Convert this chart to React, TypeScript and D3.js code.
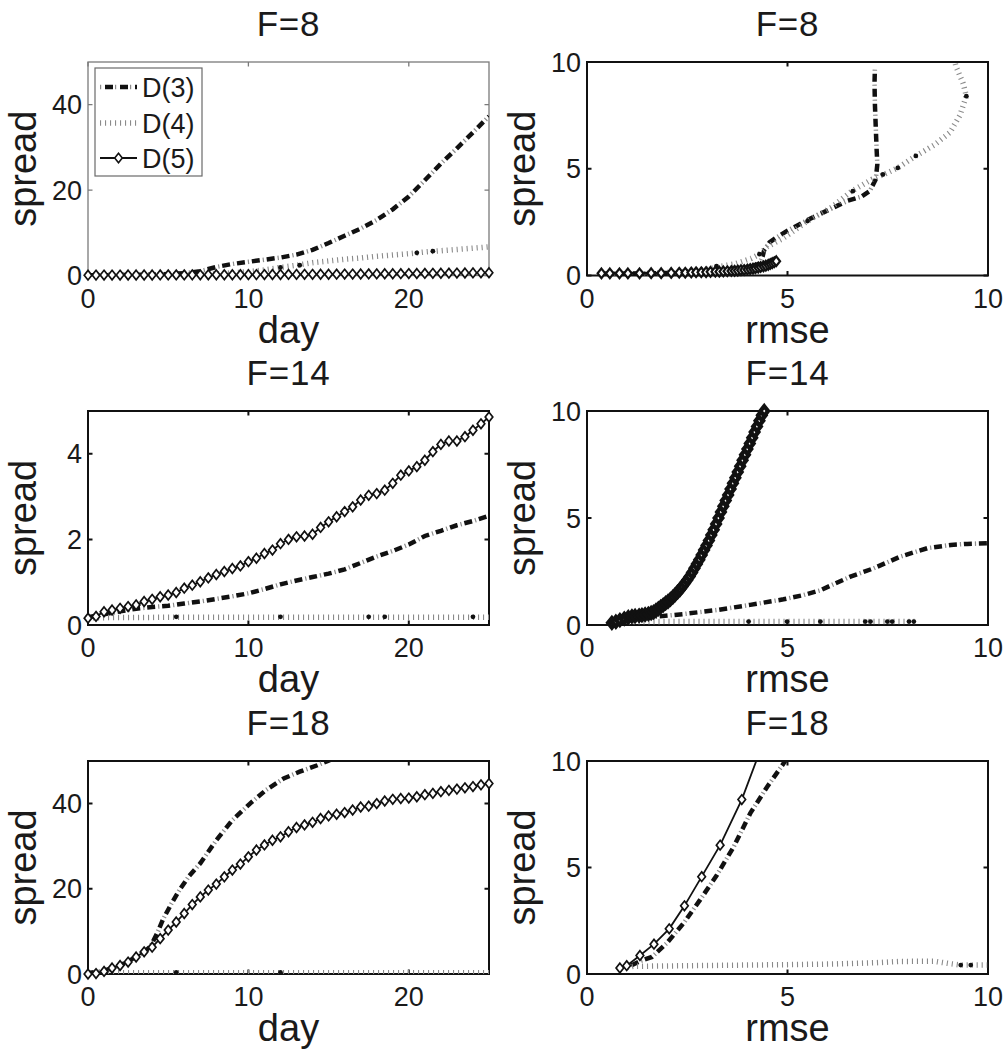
import React from "react";
import * as d3 from "d3";

// x grid for the day series with diamond markers (every half day)
const days = d3.range(0, 25.5, 0.5)

// ---- F=8 ----
const f8DayD3 = [[0,0.05],[2,0.1],[4,0.2],[6,0.5],[7,1.0],[8,2.0],[9,2.7],[10,3.2],[11,3.7],[12,4.2],[13,4.9],[14,6.0],[15,7.6],[16,9.3],[17,11.0],[18,13.0],[19,15.5],[20,18.5],[21,22.3],[22,26.2],[23,29.8],[24,33.5],[25,37.3]]
const f8DayD4 = [[0,0.05],[7,0.2],[8,0.4],[9,0.6],[10,0.9],[11,1.3],[12,1.9],[13,2.4],[14,3.0],[15,3.4],[16,3.8],[17,4.1],[18,4.5],[19,4.8],[20,5.1],[21,5.5],[22,5.8],[23,6.1],[24,6.4],[25,6.7]]
const f8DayD4Dots = [[12,1.9],[13.2,2.4],[20.5,5.3],[21.5,5.7]]
const f8DayD5 = [
  0.08,0.09,0.10,0.10,0.10,0.11,0.11,0.12,0.12,0.13,
  0.13,0.14,0.14,0.15,0.16,0.16,0.17,0.18,0.18,0.19,
  0.20,0.21,0.22,0.23,0.24,0.25,0.26,0.27,0.28,0.29,
  0.30,0.31,0.33,0.34,0.35,0.37,0.38,0.40,0.41,0.43,
  0.45,0.47,0.49,0.51,0.53,0.55,0.57,0.59,0.61,0.63,
  0.65]

const f8RmseD3 = [[0.4,0.08],[1.2,0.09],[2.0,0.12],[2.8,0.18],[3.5,0.27],[4.0,0.38],[4.3,0.55],[4.38,0.9],[4.42,1.2],[4.55,1.55],[4.7,1.75],[5.0,2.1],[5.5,2.6],[6.0,3.05],[6.5,3.5],[6.85,3.7],[7.05,3.95],[7.2,4.5],[7.24,5.2],[7.22,6.0],[7.2,7.0],[7.18,8.0],[7.17,9.0],[7.18,9.75]]
const f8RmseD4 = [[1.5,0.1],[2.5,0.18],[3.0,0.3],[3.3,0.42],[3.7,0.55],[4.1,0.8],[4.3,1.0],[4.5,1.35],[4.9,1.75],[5.5,2.55],[6.1,3.2],[6.6,3.95],[7.1,4.5],[7.4,4.73],[7.75,5.04],[8.2,5.6],[8.65,6.1],[9.05,6.7],[9.3,7.5],[9.46,8.4],[9.38,9.0],[9.2,9.8],[9.15,10.2]]
const f8RmseD4Dots = [[3.23,0.44],[4.3,1.0],[5.5,2.55],[6.63,3.95],[7.38,4.73],[7.75,5.04],[8.2,5.6],[9.46,8.4]]
const f8RmseD5 = [[0.36,0.1],[0.57,0.1],[0.81,0.1],[1.02,0.1],[1.31,0.1],[1.6,0.11],[1.85,0.11],[2.1,0.12],[2.3,0.13],[2.45,0.13],[2.6,0.14],[2.72,0.15],[2.85,0.15],[2.97,0.16],[3.08,0.17],[3.2,0.18],[3.3,0.18],[3.4,0.19],[3.5,0.2],[3.6,0.21],[3.68,0.22],[3.76,0.23],[3.84,0.25],[3.92,0.26],[4.0,0.28],[4.07,0.3],[4.14,0.32],[4.2,0.34],[4.27,0.37],[4.33,0.4],[4.4,0.43],[4.46,0.46],[4.52,0.5],[4.57,0.54],[4.62,0.58],[4.67,0.62],[4.72,0.67]]

// ---- F=14 ----
const f14DayD3 = [[0,0.18],[1,0.25],[2,0.32],[3,0.38],[4,0.42],[5,0.45],[6,0.5],[7,0.55],[8,0.61],[9,0.67],[10,0.74],[11,0.84],[12,0.95],[13,1.04],[14,1.12],[15,1.2],[16,1.3],[17,1.45],[18,1.6],[19,1.73],[20,1.88],[21,2.08],[22,2.2],[23,2.33],[24,2.43],[25,2.55]]
const f14DayD4 = [[0,0.17],[5,0.18],[10,0.18],[15,0.18],[20,0.18],[25,0.18]]
const f14DayD4Dots = [[5.5,0.19],[12,0.19],[17.5,0.19],[18.5,0.19],[24,0.19]]
const f14DayD5 = [
  0.16,0.20,0.31,0.35,0.39,0.43,0.47,0.55,0.60,0.66,
  0.70,0.76,0.86,0.93,1.01,1.10,1.18,1.25,1.32,1.38,
  1.48,1.56,1.67,1.75,1.90,2.00,2.06,2.08,2.12,2.28,
  2.41,2.53,2.65,2.76,2.92,3.03,3.07,3.15,3.31,3.50,
  3.60,3.70,3.85,4.05,4.22,4.30,4.30,4.40,4.55,4.70,
  4.86]

const f14RmseD3 = [[0.7,0.12],[1.2,0.3],[1.74,0.39],[2.4,0.51],[3.24,0.7],[4.07,0.94],[4.9,1.2],[5.4,1.4],[5.82,1.62],[6.2,1.95],[6.57,2.26],[7.15,2.65],[7.82,3.2],[8.49,3.59],[9.07,3.74],[9.48,3.79],[9.98,3.82]]
const f14RmseD4 = [[0.66,0.14],[2,0.16],[4,0.16],[6,0.16],[8.2,0.16]]
const f14RmseD4Dots = [[4.03,0.16],[4.99,0.16],[5.82,0.16],[6.94,0.16],[7.07,0.16],[7.49,0.16],[7.61,0.16],[8.03,0.16],[8.15,0.16]]
const f14RmseD5 = [[0.62,0.1],[0.72,0.15],[0.82,0.23],[0.93,0.3],[1.03,0.36],[1.12,0.4],[1.2,0.42],[1.3,0.44],[1.37,0.46],[1.45,0.49],[1.53,0.52],[1.6,0.56],[1.66,0.6],[1.72,0.68],[1.78,0.76],[1.84,0.85],[1.9,0.93],[1.96,1.02],[2.02,1.1],[2.08,1.2],[2.14,1.3],[2.2,1.42],[2.26,1.54],[2.32,1.66],[2.38,1.8],[2.44,1.95],[2.5,2.1],[2.56,2.27],[2.62,2.45],[2.68,2.65],[2.74,2.85],[2.8,3.05],[2.86,3.27],[2.92,3.5],[2.98,3.72],[3.04,3.95],[3.1,4.2],[3.16,4.45],[3.22,4.72],[3.28,5.0],[3.34,5.28],[3.4,5.55],[3.46,5.82],[3.52,6.08],[3.58,6.35],[3.64,6.62],[3.7,6.88],[3.76,7.15],[3.82,7.42],[3.88,7.7],[3.94,7.95],[4.0,8.22],[4.06,8.48],[4.12,8.75],[4.18,9.02],[4.24,9.28],[4.3,9.55],[4.36,9.8],[4.42,10.0]]

// ---- F=18 ----
const f18DayD3 = [[0,0.2],[1,0.8],[2,2.0],[2.8,3.6],[3.5,5.2],[3.9,6.5],[4.3,9.5],[4.7,13],[5.2,16.5],[5.7,19.7],[6.3,23],[7,26],[8,31.4],[9,36.1],[10.1,40],[11.1,43.2],[12.2,45.9],[13.2,47.5],[14.3,49],[15,50.1],[16,51.5]]
const f18DayD4 = [[0,0.25],[5,0.3],[10,0.3],[15,0.3],[20,0.3],[25,0.3]]
const f18DayD4Dots = [[5.5,0.35],[12,0.35]]
const f18DayD5 = [
  0.0,0.1,0.6,1.4,2.0,2.8,4.0,5.2,6.3,8.3,
  10.3,12.2,14.2,16.3,18.1,19.7,21.1,22.8,24.4,25.8,
  27.5,29.1,30.3,31.4,32.2,33.4,34.4,35.0,35.6,36.5,
  37.1,37.5,37.9,38.5,39.2,39.4,40.0,40.6,41.0,41.2,
  41.3,41.6,42.1,42.4,42.8,43.1,43.4,43.7,44.0,44.4,
  44.7]

const f18RmseD3 = [[1.1,0.4],[1.32,0.6],[1.62,0.8],[1.99,1.45],[2.41,2.39],[2.82,3.48],[3.24,4.65],[3.66,5.98],[4.07,7.54],[4.49,8.78],[4.9,9.88],[5.1,10.5]]
const f18RmseD4 = [[1.0,0.3],[1.16,0.36],[3,0.4],[5,0.44],[6.15,0.47],[7.2,0.53],[7.82,0.59],[8.65,0.6],[9.0,0.5],[9.32,0.42],[9.98,0.42]]
const f18RmseD4Dots = [[9.32,0.42],[9.57,0.42]]
const f18RmseD5 = [[0.82,0.28],[0.99,0.39],[1.32,0.87],[1.67,1.4],[2.05,2.12],[2.43,3.2],[2.86,4.57],[3.32,6.05],[3.86,8.19],[4.45,11.15]]

const legendNames = ["D(3)", "D(4)", "D(5)"]

const withDays = (vals) => vals.map((v, i) => [days[i], v])

const colL = [88, 489]
const colR = [587, 988]
const rows = [[62, 275.5], [411, 625], [761, 974]]

const panels = [
  { title: "F=8",  xLabel: "day",  col: colL, row: rows[0], xDomain: [0, 25], yDomain: [0, 50], xTicks: [0, 10, 20], yTicks: [0, 20, 40], d3s: f8DayD3, d4s: f8DayD4, dots: f8DayD4Dots, d5s: withDays(f8DayD5), light: true, legend: true },
  { title: "F=8",  xLabel: "rmse", col: colR, row: rows[0], xDomain: [0, 10], yDomain: [0, 10], xTicks: [0, 5, 10], yTicks: [0, 5, 10], d3s: f8RmseD3, d4s: f8RmseD4, dots: f8RmseD4Dots, d5s: f8RmseD5, heavy: 2.2 },
  { title: "F=14", xLabel: "day",  col: colL, row: rows[1], xDomain: [0, 25], yDomain: [0, 5],  xTicks: [0, 10, 20], yTicks: [0, 2, 4],   d3s: f14DayD3, d4s: f14DayD4, dots: f14DayD4Dots, d5s: withDays(f14DayD5) },
  { title: "F=14", xLabel: "rmse", col: colR, row: rows[1], xDomain: [0, 10], yDomain: [0, 10], xTicks: [0, 5, 10], yTicks: [0, 5, 10], d3s: f14RmseD3, d4s: f14RmseD4, dots: f14RmseD4Dots, d5s: f14RmseD5, heavy: 4.2 },
  { title: "F=18", xLabel: "day",  col: colL, row: rows[2], xDomain: [0, 25], yDomain: [0, 50], xTicks: [0, 10, 20], yTicks: [0, 20, 40], d3s: f18DayD3, d4s: f18DayD4, dots: f18DayD4Dots, d5s: withDays(f18DayD5) },
  { title: "F=18", xLabel: "rmse", col: colR, row: rows[2], xDomain: [0, 10], yDomain: [0, 10], xTicks: [0, 5, 10], yTicks: [0, 5, 10], d3s: f18RmseD3, d4s: f18RmseD4, dots: f18RmseD4Dots, d5s: f18RmseD5 },
]

const font = "'Liberation Sans', Arial, Helvetica, sans-serif"
const ink = "#1a1a1a"

const diamond = (cx, cy) => `M${cx},${cy - 4.8}L${cx + 3.8},${cy}L${cx},${cy + 4.8}L${cx - 3.8},${cy}Z`

// dash-dot: thick black dashes with a thin gray tick between
function DashDot({ d }) {
  return <g>
    <path d={d} fill="none" stroke="#8c8c8c" strokeWidth={4.5} strokeDasharray="1.2 13.8" strokeDashoffset={4} />
    <path d={d} fill="none" stroke="#111" strokeWidth={4.5} strokeDasharray="8 7" />
  </g>
}

function Dotted({ d }) {
  return <path d={d} fill="none" stroke="#8a8a8a" strokeWidth={5.5} strokeDasharray="1.1 3.9" />
}

function Panel({ p, idx }) {
  const [x0, x1] = p.col
  const [y0, y1] = p.row
  const x = d3.scaleLinear().domain(p.xDomain).range([x0, x1])
  const y = d3.scaleLinear().domain(p.yDomain).range([y1, y0])
  const line = d3.line().x(d => x(d[0])).y(d => y(d[1]))
  const frameColor = p.light ? "#7a7a7a" : "#111"
  const frameW = p.light ? 1.3 : 2
  const tick = 4.5
  const clipId = `clip-${idx}`
  const inside = d => d[0] >= p.xDomain[0] && d[0] <= p.xDomain[1] && d[1] >= p.yDomain[0] && d[1] <= p.yDomain[1]
  const cx = (x0 + x1) / 2
  const cy = (y0 + y1) / 2
  const mw = p.heavy || 1.7

  return <g>
    <clipPath id={clipId}>
      <rect x={x0} y={y0} width={x1 - x0} height={y1 - y0} />
    </clipPath>
    <rect x={x0} y={y0} width={x1 - x0} height={y1 - y0} fill="white" stroke={frameColor} strokeWidth={frameW} />
    {p.xTicks.map(t => <g key={"xt" + t}>
      <path d={`M${x(t)},${y1} v${-tick} M${x(t)},${y0} v${tick}`} stroke={frameColor} strokeWidth={frameW} />
      <text x={x(t)} y={y1 + 32} textAnchor="middle" fontSize={27} fontFamily={font} fill={ink}>{t}</text>
    </g>)}
    {p.yTicks.map(t => <g key={"yt" + t}>
      <path d={`M${x0},${y(t)} h${tick} M${x1},${y(t)} h${-tick}`} stroke={frameColor} strokeWidth={frameW} />
      <text x={x0 - 6} y={y(t) + 9.5} textAnchor="end" fontSize={27} fontFamily={font} fill={ink}>{t}</text>
    </g>)}

    <g clipPath={`url(#${clipId})`}>
      <DashDot d={line(p.d3s)} />
      <Dotted d={line(p.d4s)} />
      <path d={line(p.d5s)} fill="none" stroke="#111" strokeWidth={p.heavy ? 3 : 1.8} />
    </g>
    {p.dots.filter(inside).map((d, i) => <circle key={"dt" + i} cx={x(d[0])} cy={y(d[1])} r={2.4} fill="#111" />)}
    {p.d5s.filter(inside).map((d, i) => <path key={"dm" + i} d={diamond(x(d[0]), y(d[1]))} fill="white" stroke="#111" strokeWidth={mw} />)}

    <text x={cx} y={y0 - 26} textAnchor="middle" fontSize={35} letterSpacing={0.8} fontFamily={font} fill={ink}>{p.title}</text>
    <text x={cx} y={y1 + 67} textAnchor="middle" fontSize={38} fontFamily={font} fill={ink}>{p.xLabel}</text>
    <text transform={`translate(${x0 - 52},${cy}) rotate(-90)`} textAnchor="middle" fontSize={38} fontFamily={font} fill={ink}>spread</text>

    {p.legend && <Legend />}
  </g>
}

function Legend() {
  const bx = 95, by = 68, bw = 107, bh = 108
  const rowsY = [87, 123, 158]
  const lx0 = 100, lx1 = 137
  const sample = (ry) => `M${lx0},${ry} H${lx1}`
  return <g>
    <rect x={bx} y={by} width={bw} height={bh} fill="white" stroke="#6a6a6a" strokeWidth={1.2} />
    <path d={sample(rowsY[0])} fill="none" stroke="#8c8c8c" strokeWidth={4.5} strokeDasharray="1.2 13.8" strokeDashoffset={0} />
    <path d={sample(rowsY[0])} fill="none" stroke="#111" strokeWidth={4.5} strokeDasharray="8 7" strokeDashoffset={-5} />
    <Dotted d={sample(rowsY[1])} />
    <path d={sample(rowsY[2])} fill="none" stroke="#111" strokeWidth={1.8} />
    <path d={diamond((lx0 + lx1) / 2, rowsY[2])} fill="white" stroke="#111" strokeWidth={1.6} />
    {legendNames.map((n, i) => <text key={n} x={142} y={rowsY[i] + 9.5} fontSize={27} fontFamily={font} fill={ink}>{n}</text>)}
  </g>
}

export default function App() {
  return <svg width={1006} height={1050} style={{ position: "absolute", left: 0, top: 0, background: "white" }}>
    <rect width={1006} height={1050} fill="white" />
    {panels.map((p, i) => <Panel key={i} p={p} idx={i} />)}
  </svg>
}
